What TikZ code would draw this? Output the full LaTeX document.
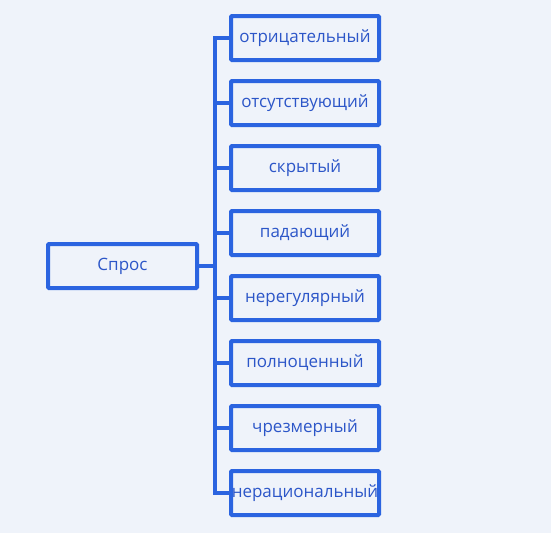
\documentclass[tikz,border=0pt]{standalone}
\usepackage{fontspec}
\setmainfont{Open Sans}
\usetikzlibrary{positioning, calc}
\definecolor{bg}{HTML}{EFF3FA}
\definecolor{boxblue}{HTML}{2B64E0}
\definecolor{txtblue}{HTML}{2C56C8}

\begin{document}
\begin{tikzpicture}[x=1pt,y=1pt,
    box/.style={draw=boxblue, line width=4pt, rounded corners=1pt, minimum width=148pt, minimum height=44pt, inner sep=0pt, text=txtblue, font=\fontsize{17}{20}\selectfont},
    link/.style={draw=boxblue, line width=4pt}]
            \fill[bg] (0,0) rectangle (551,-533);
            \useasboundingbox (0,0) rectangle (551,-533);
            \node[box, minimum width=149pt] (spros) at (122.5,-266) {Спрос};
            \foreach \t [count=\i] in {отрицательный, отсутствующий, скрытый, падающий, нерегулярный, полноценный, чрезмерный, нерациональный}
                \node[box] (t\i) at (305,-38-65*\i+65) {\t};
            \coordinate (top) at (215,-38);
            \coordinate (bot) at (215,-493);
            \draw[link, line cap=rect] (top)--(bot);
            \draw[link] (spros.east)--(spros.east-|top);
            \foreach \i in {1,...,8}
                \draw[link] (t\i.west-|top)--(t\i.west);
        \end{tikzpicture}
\end{document}
